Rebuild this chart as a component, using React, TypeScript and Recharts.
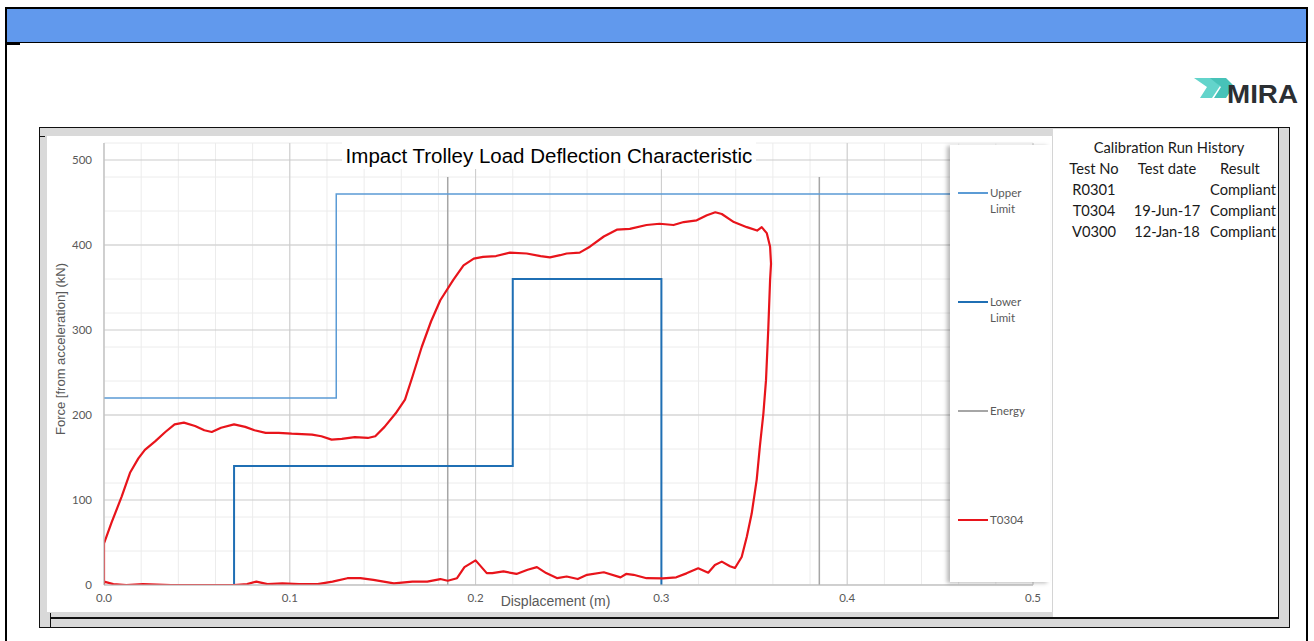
import React from "react";
import { LineChart, Line, XAxis, YAxis, CartesianGrid, Label } from "recharts";

// axis ticks
const DISPLACEMENT_TICKS = [0, 0.1, 0.2, 0.3, 0.4, 0.5];
const FORCE_TICKS = [0, 100, 200, 300, 400, 500];

// limit corridors (displacement m, force kN)
const UPPER_LIMIT = [
  { x: 0, y: 220 },
  { x: 0.125, y: 220 },
  { x: 0.125, y: 460 },
  { x: 0.5, y: 460 },
];

const LOWER_LIMIT = [
  { x: 0.07, y: 0 },
  { x: 0.07, y: 140 },
  { x: 0.22, y: 140 },
  { x: 0.22, y: 360 },
  { x: 0.3, y: 360 },
  { x: 0.3, y: 0 },
];

const ENERGY = [
  { x: 0.185, y: 0 },
  { x: 0.185, y: 480 },
  { x: 0.285, y: null },
  { x: 0.385, y: 0 },
  { x: 0.385, y: 480 },
];

// measured run T0304: loading then unloading
const T0304: [number, number][] = [
  [0, 0], [0, 49], [0.004, 73], [0.0095, 104], [0.014, 132], [0.0185, 149],
  [0.022, 159], [0.0275, 169], [0.033, 180], [0.038, 189], [0.043, 191],
  [0.049, 187], [0.054, 182], [0.058, 180], [0.063, 185], [0.07, 189],
  [0.076, 186], [0.081, 182], [0.087, 179], [0.094, 179], [0.101, 178],
  [0.112, 177], [0.117, 175], [0.1225, 171], [0.128, 172], [0.135, 174],
  [0.142, 173], [0.146, 175], [0.151, 186], [0.157, 202], [0.162, 218],
  [0.166, 245], [0.171, 280], [0.176, 310], [0.181, 335], [0.188, 359],
  [0.1935, 376], [0.199, 384], [0.204, 386], [0.211, 387], [0.2185, 391],
  [0.2275, 390], [0.235, 387], [0.24, 385.5], [0.2455, 388], [0.249, 390],
  [0.256, 391], [0.2615, 398], [0.269, 410], [0.276, 418], [0.283, 419],
  [0.292, 423.5], [0.299, 425], [0.3065, 423.5], [0.312, 427], [0.319, 429],
  [0.3245, 435], [0.329, 438.5], [0.3325, 436.5], [0.339, 427], [0.346, 421],
  [0.3515, 417], [0.354, 421], [0.3567, 414], [0.3585, 398], [0.359, 378],
  [0.3585, 359], [0.3575, 300], [0.3563, 241], [0.3549, 202], [0.353, 163],
  [0.3513, 124], [0.3486, 84], [0.346, 57], [0.3432, 33], [0.3396, 20],
  [0.3369, 22], [0.3325, 27.5], [0.3288, 23.5], [0.3252, 14.5], [0.3198, 19.6],
  [0.3135, 13.7], [0.308, 9], [0.3008, 7.8], [0.292, 8], [0.285, 12],
  [0.281, 13], [0.278, 9], [0.269, 15], [0.26, 12], [0.255, 7], [0.249, 10],
  [0.244, 8], [0.238, 14], [0.233, 21], [0.228, 18], [0.222, 13], [0.215, 16],
  [0.209, 14], [0.206, 14], [0.2, 29], [0.194, 21], [0.19, 8], [0.185, 5],
  [0.181, 7], [0.174, 4], [0.166, 4], [0.156, 2], [0.145, 6], [0.138, 8],
  [0.131, 8], [0.123, 4], [0.115, 1], [0.105, 1], [0.096, 2], [0.088, 1],
  [0.082, 4], [0.077, 1], [0.07, 0], [0.052, 0], [0.036, 0], [0.021, 1],
  [0.012, 0], [0.005, 1], [0, 4],
];

const LEGEND = [
  { name: "Upper Limit", lines: ["Upper", "Limit"], color: "#5b9bd5", width: 1.5 },
  { name: "Lower Limit", lines: ["Lower", "Limit"], color: "#1f6fb4", width: 2.2 },
  { name: "Energy", lines: ["Energy"], color: "#a6a6a6", width: 1.5 },
  { name: "T0304", lines: ["T0304"], color: "#e8141b", width: 2.2 },
];

const HISTORY_HEAD = ["Test No", "Test date", "Result"];
const HISTORY_ROWS = [
  ["R0301", "", "Compliant"],
  ["T0304", "19-Jun-17", "Compliant"],
  ["V0300", "12-Jan-18", "Compliant"],
];

// minor grid every 0.01 m / 20 kN
const MINOR_X = Array.from({ length: 51 }, (_, i) => +(i * 0.01).toFixed(2));
const MINOR_Y = Array.from({ length: 27 }, (_, i) => i * 20);

const tickFont = { fill: "#595959", fontSize: 11.5, fontFamily: "Lato" };
const tableFont = { fontFamily: "Lato", fontSize: 14.7, color: "#1a1a1a" };

const abs = (left: number, top: number, width: number, height: number, extra = {}) => ({
  position: "absolute" as const,
  left,
  top,
  width,
  height,
  boxSizing: "border-box" as const,
  ...extra,
});

function MiraLogo() {
  return (
    <svg width={120} height={40} style={{ position: "absolute", left: 1185, top: 72 }}>
      <polygon points="9,6 27,6 35,14 27,26 15,26 22,15" fill="#63d4cb" />
      <polygon points="25,6 41,6 49,14 41,26 29,26 36,15" fill="#47c2b8" />
      <text
        x={42}
        y={31}
        textLength={71}
        lengthAdjust="spacingAndGlyphs"
        fontFamily="Liberation Sans"
        fontWeight="bold"
        fontSize={25}
        fill="#2b2f33"
      >
        MIRA
      </text>
    </svg>
  );
}

export default function App() {
  const t0304 = T0304.map(([x, y]) => ({ x, y }));
  return (
    <div style={abs(0, 0, 1314, 641, { overflow: "hidden", background: "#fff" })}>
      {/* outer frame */}
      <div style={abs(5, 7, 1303, 680, { border: "2px solid #000" })} />
      <div style={abs(7, 9, 1299, 34, { background: "#6199ed", borderBottom: "1.5px solid #000" })} />
      <div style={abs(7, 43, 13, 1.5, { background: "#000" })} />

      <MiraLogo />

      {/* chart panel */}
      <div style={abs(39, 127, 1251, 501, { border: "1.5px solid #111", background: "#d9d9d9" })} />
      <div style={abs(47, 136, 1006, 476, { background: "#fff", borderRight: "1px solid #d4d4d4" })} />
      <div style={abs(1053, 128.5, 225, 489, { background: "#fff" })} />
      <div style={abs(50, 617, 1229, 1.5, { background: "#111" })} />
      <div style={abs(1277.5, 127, 1.5, 491, { background: "#111" })} />
      <div style={abs(49.5, 613, 1.5, 14, { background: "#111" })} />
      <div style={abs(40, 135.5, 5, 1.2, { background: "#111" })} />

      <div style={{ position: "absolute", left: 47, top: 136 }}>
        <LineChart width={1006} height={476} margin={{ top: 7, right: 20, bottom: 0, left: 7 }}>
          <CartesianGrid
            stroke="#ececec"
            strokeWidth={1}
            horizontalValues={MINOR_Y}
            verticalValues={MINOR_X}
          />
          <CartesianGrid
            stroke="#cbcbcb"
            strokeWidth={1}
            horizontalValues={FORCE_TICKS}
            verticalValues={DISPLACEMENT_TICKS}
          />
          <XAxis
            type="number"
            dataKey="x"
            domain={[0, 0.5]}
            ticks={DISPLACEMENT_TICKS}
            tickFormatter={(v: number) => v.toFixed(1)}
            allowDataOverflow
            height={27}
            axisLine={{ stroke: "#bfbfbf" }}
            tickLine={false}
            tickSize={0}
            tickMargin={9}
            tick={tickFont}
          >
            <Label
              content={({ viewBox }: any) => (
                <text
                  x={viewBox.x + viewBox.width / 2 - 13}
                  y={viewBox.y + 21}
                  textAnchor="middle"
                  fontFamily="Liberation Sans"
                  fontSize={14}
                  fill="#595959"
                >
                  Displacement (m)
                </text>
              )}
            />
          </XAxis>
          <YAxis
            type="number"
            dataKey="y"
            domain={[0, 520]}
            ticks={FORCE_TICKS}
            allowDataOverflow
            width={50}
            axisLine={{ stroke: "#bfbfbf" }}
            tickLine={false}
            tickSize={0}
            tickMargin={12}
            tick={tickFont}
          >
            <Label
              content={({ viewBox }: any) => {
                const cx = viewBox.x + 6;
                const cy = viewBox.y + viewBox.height / 2 - 15;
                return (
                  <text
                    x={cx}
                    y={cy}
                    transform={`rotate(-90 ${cx} ${cy})`}
                    textAnchor="middle"
                    dominantBaseline="central"
                    fontFamily="Liberation Sans"
                    fontSize={13}
                    fill="#595959"
                  >
                    Force [from acceleration] (kN)
                  </text>
                );
              }}
            />
          </YAxis>
          <Line
            data={ENERGY}
            dataKey="y"
            name="Energy"
            type="linear"
            stroke={LEGEND[2].color}
            strokeWidth={1.5}
            dot={false}
            activeDot={false}
            connectNulls={false}
            isAnimationActive={false}
          />
          <Line
            data={UPPER_LIMIT}
            dataKey="y"
            name="Upper Limit"
            type="linear"
            stroke={LEGEND[0].color}
            strokeWidth={1.5}
            dot={false}
            activeDot={false}
            isAnimationActive={false}
          />
          <Line
            data={LOWER_LIMIT}
            dataKey="y"
            name="Lower Limit"
            type="linear"
            stroke={LEGEND[1].color}
            strokeWidth={2}
            dot={false}
            activeDot={false}
            isAnimationActive={false}
          />
          <Line
            data={t0304}
            dataKey="y"
            name="T0304"
            type="linear"
            stroke={LEGEND[3].color}
            strokeWidth={2.2}
            strokeLinejoin="round"
            dot={false}
            activeDot={false}
            isAnimationActive={false}
          />
        </LineChart>
      </div>

      {/* chart title */}
      <div
        style={abs(342, 142, 414, 27, {
          background: "#fff",
          fontFamily: "Liberation Sans",
          fontSize: 20.5,
          color: "#000",
          textAlign: "center",
          lineHeight: "27px",
          whiteSpace: "nowrap",
        })}
      >
        Impact Trolley Load Deflection Characteristic
      </div>

      {/* legend */}
      <div
        style={abs(950, 145, 100, 437, {
          background: "#fff",
          boxShadow: "-3px 1px 4px rgba(0,0,0,0.28)",
        })}
      >
        {LEGEND.map((s, i) => (
          <div key={s.name} style={{ position: "absolute", left: 8, top: 48 + i * 109 - 8 }}>
            <div
              style={{
                position: "absolute",
                left: 0,
                top: 8 - s.width / 2,
                width: 30,
                height: s.width,
                background: s.color,
              }}
            />
            <div
              style={{
                position: "absolute",
                left: 32,
                top: 0,
                fontFamily: "Lato",
                fontSize: 11.5,
                lineHeight: "16px",
                color: "#595959",
                whiteSpace: "nowrap",
              }}
            >
              {s.lines.map((l) => (
                <div key={l}>{l}</div>
              ))}
            </div>
          </div>
        ))}
      </div>

      {/* calibration history table */}
      <div style={abs(1058, 137, 222, 20, { ...tableFont, textAlign: "center", lineHeight: "20px" })}>
        Calibration Run History
      </div>
      {[HISTORY_HEAD, ...HISTORY_ROWS].map((row, r) => (
        <div key={r} style={abs(1058, 158 + r * 21, 220, 21, { ...tableFont, lineHeight: "21px" })}>
          <span style={{ position: "absolute", left: 0, width: 72, textAlign: "center", whiteSpace: "nowrap" }}>
            {row[0]}
          </span>
          <span style={{ position: "absolute", left: 74, width: 70, textAlign: "center", whiteSpace: "nowrap" }}>
            {row[1]}
          </span>
          <span
            style={{
              position: "absolute",
              right: 2,
              width: 72,
              textAlign: r === 0 ? "center" : "right",
              whiteSpace: "nowrap",
            }}
          >
            {row[2]}
          </span>
        </div>
      ))}
    </div>
  );
}
